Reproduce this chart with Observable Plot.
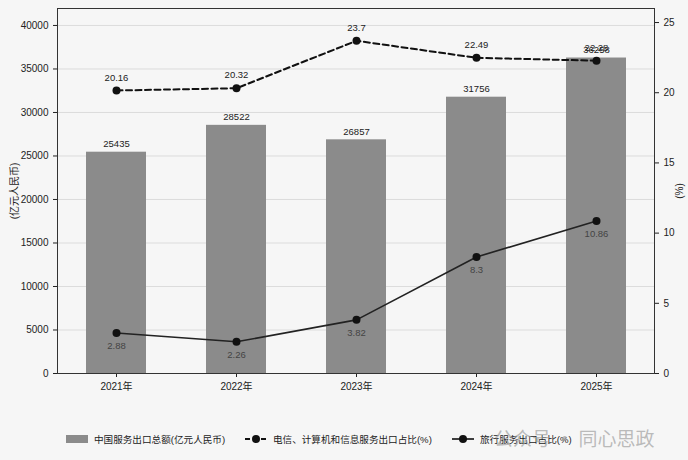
<!DOCTYPE html>
<html>
<head>
<meta charset="utf-8">
<script src="https://cdn.jsdelivr.net/npm/d3@7"></script>
<script src="https://cdn.jsdelivr.net/npm/@observablehq/plot@0.6"></script>
<style>
  body { margin: 0; background: #f6f6f6; font-family: "Liberation Sans", "Noto Sans CJK SC", sans-serif; }
  #wrap { position: relative; width: 688px; height: 460px; overflow: hidden; }
  #legend { position: absolute; left: 0; top: 400px; width: 688px; height: 60px; font-size: 9.6px; color: #222; }
  .item { position: absolute; top: 32px; display: flex; align-items: center; white-space: nowrap; }
  .item svg { margin-right: 6px; }
  #wm { position: absolute; left: 494px; top: 424px; font-size: 19px; color: rgba(160,160,160,0.7); white-space: nowrap; font-family: "Noto Sans CJK SC", sans-serif; }
</style>
</head>
<body>
<div id="wrap">
  <div id="chart"></div>
  <div id="legend"></div>
  <div id="wm">公众号 · 同心思政</div>
</div>
<script>
const years = ["2021年", "2022年", "2023年", "2024年", "2025年"];
const totalExports = [25435, 28522, 26857, 31756, 36258];
const ictShare = [20.16, 20.32, 23.7, 22.49, 22.28];
const travelShare = [2.88, 2.26, 3.82, 8.3, 10.86];
const leftTicks = [0, 5000, 10000, 15000, 20000, 25000, 30000, 35000, 40000];
const rightTicks = [0, 5, 10, 15, 20, 25];
const seriesNames = ["中国服务出口总额(亿元人民币)", "电信、计算机和信息服务出口占比(%)", "旅行服务出口占比(%)"];

const leftMax = 41950;
const rightMax = 26;
const k = leftMax / rightMax;

const data = years.map((y, i) => ({year: y, total: totalExports[i], ict: ictShare[i], travel: travelShare[i]}));

const chart = Plot.plot({
  width: 688,
  height: 400,
  marginTop: 8,
  marginBottom: 27,
  marginLeft: 57,
  marginRight: 34,
  style: {background: "transparent", fontSize: "10px", fontFamily: "Liberation Sans, Noto Sans CJK SC, sans-serif", color: "#222"},
  x: {domain: years, paddingInner: 0.5, paddingOuter: 0.227},
  y: {domain: [0, leftMax]},
  marks: [
    Plot.gridY(leftTicks, {stroke: "#dcdcdc", strokeOpacity: 1}),
    Plot.barY(data, {x: "year", y: "total", fill: "#8b8b8b"}),
    Plot.text(data, {x: "year", y: "total", text: d => String(d.total), dy: -8, fontSize: 9.5, fill: "#222"}),
    Plot.line(data, {x: "year", y: d => d.ict * k, stroke: "#111", strokeWidth: 2, strokeDasharray: "6,3.5"}),
    Plot.dot(data, {x: "year", y: d => d.ict * k, r: 4, fill: "#111"}),
    Plot.text(data, {x: "year", y: d => d.ict * k, text: d => String(d.ict), dy: -13, fontSize: 9.5, fill: "#222"}),
    Plot.line(data, {x: "year", y: d => d.travel * k, stroke: "#222", strokeWidth: 1.6}),
    Plot.dot(data, {x: "year", y: d => d.travel * k, r: 4, fill: "#111"}),
    Plot.text(data, {x: "year", y: d => d.travel * k, text: d => String(d.travel), dy: 13, fontSize: 9.5, fill: "#444"}),
    Plot.axisY(leftTicks, {anchor: "left", tickSize: 4, label: "(亿元人民币)", labelAnchor: "center", labelArrow: "none", labelOffset: 47, tickFormat: d => String(d)}),
    Plot.axisY(rightTicks.map(d => d * k), {anchor: "right", tickSize: 4, label: "(%)", labelAnchor: "center", labelArrow: "none", labelOffset: 28, tickFormat: d => String(Math.round(d / k))}),
    Plot.axisX({tickSize: 4, label: null}),
    Plot.frame({stroke: "#333", strokeWidth: 1})
  ]
});
document.getElementById("chart").appendChild(chart);

const legend = document.getElementById("legend");
const items = [
  {left: 66, sw: `<svg width="22" height="10"><rect x="0" y="1" width="22" height="8" fill="#8b8b8b"/></svg>`},
  {left: 245, sw: `<svg width="22" height="10"><line x1="0" y1="5" x2="22" y2="5" stroke="#111" stroke-width="2" stroke-dasharray="5,3"/><circle cx="11" cy="5" r="4" fill="#111"/></svg>`},
  {left: 452, sw: `<svg width="22" height="10"><line x1="0" y1="5" x2="22" y2="5" stroke="#111" stroke-width="1.6"/><circle cx="11" cy="5" r="4" fill="#111"/></svg>`}
];
items.forEach((it, i) => {
  const d = document.createElement("div");
  d.className = "item";
  d.style.left = it.left + "px";
  d.innerHTML = it.sw + `<span>${seriesNames[i]}</span>`;
  legend.appendChild(d);
});
</script>
</body>
</html>
